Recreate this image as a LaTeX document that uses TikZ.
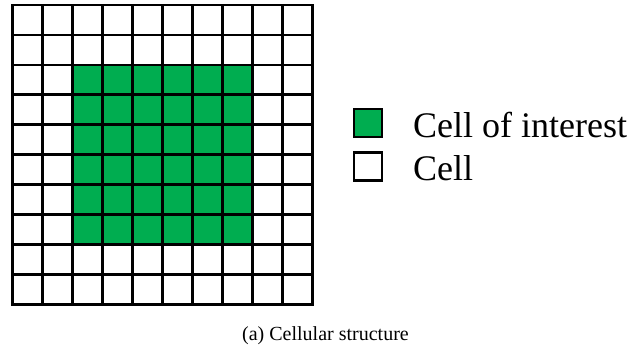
\documentclass[tikz,border=0pt]{standalone}
\usepackage{fontspec}
\setmainfont{Liberation Serif}
\definecolor{cellgreen}{HTML}{00AD50}
\begin{document}
\begin{tikzpicture}[x=1pt,y=-1pt,
  gridline/.style={line width=2.8pt, black},
  keybox/.style={draw=black, line width=2.6pt, minimum size=28pt, inner sep=0pt},
  keytext/.style={anchor=base west, inner sep=0pt, font=\fontsize{36}{40}\selectfont},
  captext/.style={anchor=base, inner sep=0pt, font=\fontsize{20}{24}\selectfont}]
\useasboundingbox (0,0) rectangle (642,349);
\def\gx{12.7}\def\gy{5}\def\cs{29.95}
% block of cells of interest (rows and columns 3 to 8)
\fill[cellgreen] (\gx+2*\cs,\gy+2*\cs) rectangle (\gx+8*\cs,\gy+8*\cs);
% 10 x 10 grid of cells
\foreach \i in {1,...,9} {
  \draw[gridline] (\gx+\i*\cs,\gy) -- (\gx+\i*\cs,\gy+10*\cs);
  \draw[gridline] (\gx,\gy+\i*\cs) -- (\gx+10*\cs,\gy+\i*\cs);
}
\draw[gridline] (\gx,\gy) rectangle (\gx+10*\cs,\gy+10*\cs);
% legend
\node[keybox, fill=cellgreen] (keyint) at (367.8,122.8) {};
\node[keybox, fill=white] (keycell) at (367.8,166.7) {};
\node[keytext] (labint) at (413,137.3) {Cell of interest};
\node[keytext] (labcell) at (413,180) {Cell};
% caption
\node[captext] (caption) at (325.5,340.7) {(a) Cellular structure};
\end{tikzpicture}
\end{document}
